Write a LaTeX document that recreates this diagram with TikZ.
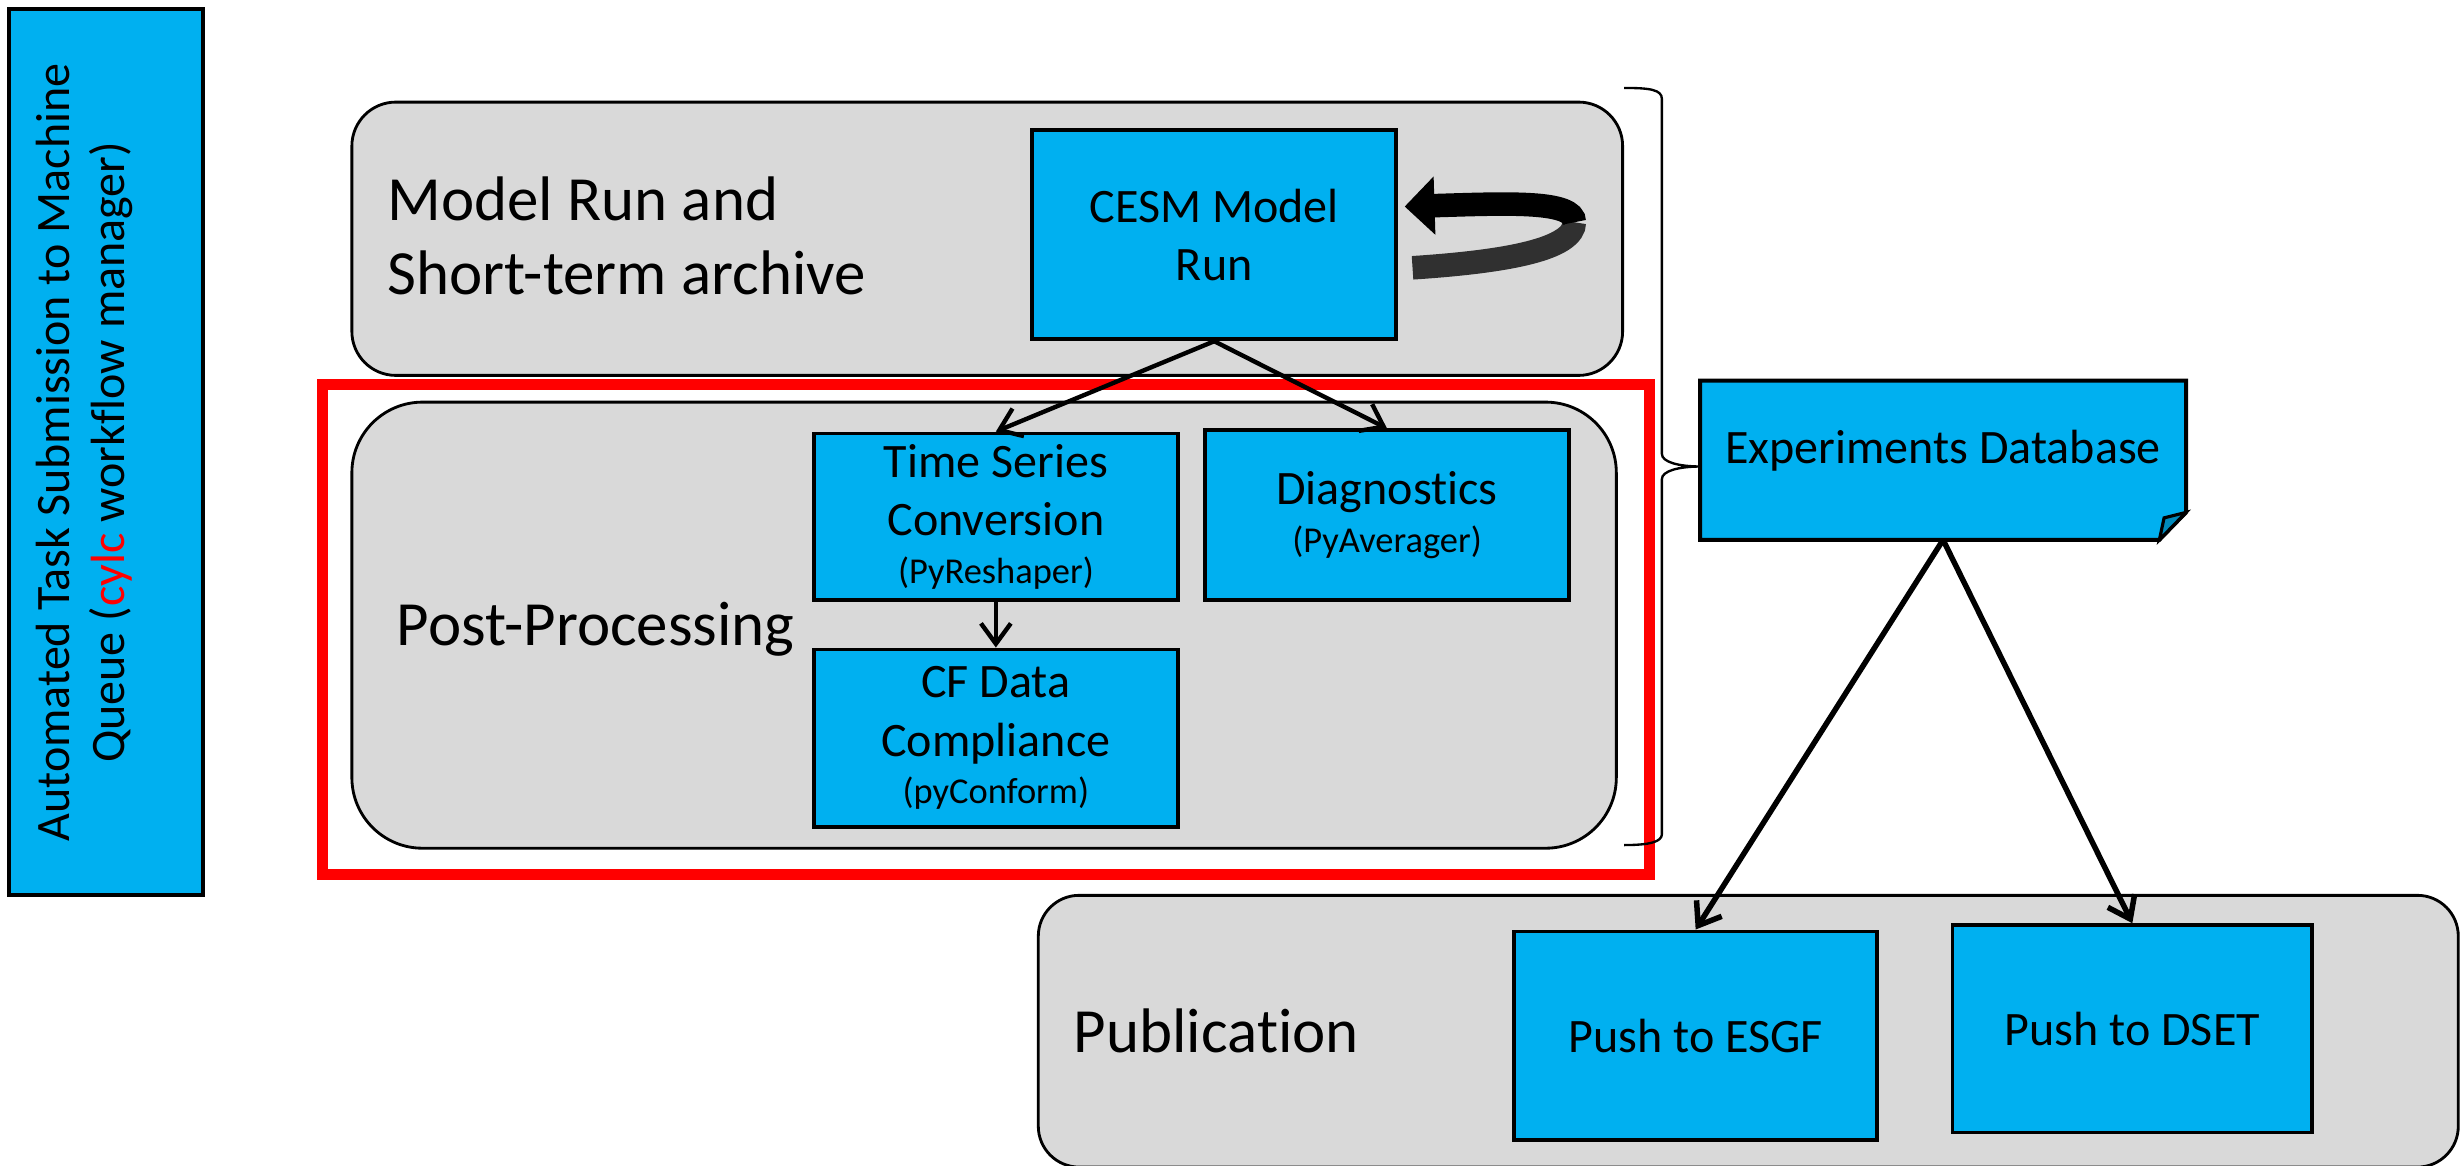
\documentclass[tikz,border=0pt]{standalone}
\usepackage{fontspec}
\setmainfont{Carlito}[Ligatures=NoCommon]
\usetikzlibrary{arrows.meta,calc,positioning}
\definecolor{boxblue}{RGB}{0,176,240}
\definecolor{groupgray}{RGB}{217,217,217}
\definecolor{foldblue}{RGB}{0,138,188}
\definecolor{loopgray}{RGB}{48,48,48}
\tikzset{
mybox/.style={
  rectangle,
  line width=0.25mm,
  inner sep=0pt,
  align=center,
  draw=black,
  fill=boxblue,
  minimum width=23.2mm,
  font=\fontsize{8.7}{10.6}\selectfont,
  }
}
\tikzset{
mygroup/.style={
  rectangle,
  rounded corners=4.5mm,
  line width=0.18mm,
  draw=black,
  fill=groupgray,
  }
}
\tikzset{
mylabel/.style={
  inner sep=0pt,
  align=left,
  font=\fontsize{11.4}{13.4}\selectfont,
  }
}
\tikzset{
myline/.style={
  line width=0.28mm,
  -{Straight Barb[length=1.3mm,width=1.9mm]}
  }
}
\newcommand{\tooltext}[1]{{\fontsize{6.6}{8}\selectfont #1}}

\begin{document}
\begin{tikzpicture}[x=0.1mm, y=-0.1mm]
    \useasboundingbox (0,0) rectangle (1568,742);

    % workflow manager
    \node[mybox, rotate=90, minimum width=56.4mm, minimum height=12.3mm] (queue) at (67.5,288) {};
    \node[rotate=90, align=center, inner sep=0pt, font=\fontsize{8.7}{10}\selectfont] (queuetxt) at (54,288) {Automated Task Submission to Machine\\Queue ({\color{red}cylc} workflow manager)};

    % model run part
    \node[mygroup, rounded corners=2.8mm, minimum width=80.9mm, minimum height=17.4mm] (modelgrp) at (628.5,152) {};
    \node[mylabel, anchor=west] (modellbl) at (246,150) {Model Run and\\Short-term archive};
    \node[mybox, minimum height=13.3mm] (cesm) at (773,149.5) {CESM Model\\Run};

    % post-processing part
    \node[draw=red, line width=0.7mm, minimum width=84.5mm, minimum height=31.15mm] (ppframe) at (627.5,400.75) {};
    \node[mygroup, minimum width=80.5mm, minimum height=28.4mm] (postgrp) at (626.5,398) {};
    \node[mylabel, anchor=base west] (postlbl) at (252,411) {Post-Processing};
    \node[mybox, minimum height=10.6mm] (tsconv) at (634,329) {Time Series\\Conversion\\[-2pt]\tooltext{(PyReshaper)}};
    \node[mybox, minimum height=10.8mm] (diag) at (883,328) {Diagnostics\\[-2pt]\tooltext{(PyAverager)}};
    \node[mybox, below=2.9mm of tsconv, minimum height=11.3mm] (cfdata) {CF Data\\Compliance\\[-2pt]\tooltext{(pyConform)}};

    % publication part
    \node[mygroup, rounded corners=2.6mm, minimum width=90.4mm, minimum height=17.3mm] (pubgrp) at (1113,656.5) {};
    \node[mylabel, anchor=base west] (publbl) at (683,670) {Publication};
    \node[mybox, minimum width=23.1mm, minimum height=13.3mm] (esgf) at (1079.5,659.5) {Push to ESGF};
    \node[mybox, minimum width=22.9mm, minimum height=13.2mm] (dset) at (1357.5,655) {Push to DSET};

    % experiments database
    \node[minimum width=30.8mm, minimum height=10mm] (expdb) at (1237,293) {};
    \draw[line width=0.25mm, fill=boxblue] (expdb.north west) -- (expdb.north east) -- ([yshift=1.75mm]expdb.south east) -- ([xshift=-1.7mm]expdb.south east) -- (expdb.south west) -- cycle;
    \draw[line width=0.2mm, fill=foldblue] ([yshift=1.75mm]expdb.south east) -- ([xshift=-1.4mm,yshift=1.4mm]expdb.south east) -- ([xshift=-1.7mm]expdb.south east) -- cycle;
    \node[font=\fontsize{8.7}{10}\selectfont, inner sep=0pt] (expdbtxt) at ([yshift=0.6mm]expdb.center) {Experiments Database};

    % brace
    \draw[line width=0.15mm] (1034,56) .. controls (1050,56) and (1058,57) .. (1058,63) -- (1058,289)
        .. controls (1058,294) and (1068,297) .. (1083,297) .. controls (1068,297) and (1058,300) .. (1058,305)
        -- (1058,531) .. controls (1058,536) and (1050,538) .. (1034,538);

    % loop arrow
    \draw[line width=1.5mm, color=loopgray] ($(cesm.east)+(9,21)$) .. controls ($(cesm.east)+(70,17)$) and ($(cesm.east)+(112,9)$) .. ($(cesm.east)+(112,-8)$);
    \draw[line width=1.5mm, -{Triangle[length=1.9mm,width=3.6mm]}] ($(cesm.east)+(112,-8)$) .. controls ($(cesm.east)+(112,-22)$) and ($(cesm.east)+(70,-20)$) .. ($(cesm.east)+(4,-18)$);

    % flow edges
    \draw[myline] (cesm.south) -- (tsconv.north);
    \draw[myline] (cesm.south) -- (diag.north);
    \draw[myline] (tsconv.south) -- (cfdata.north);
    \draw[myline, line width=0.35mm] (expdb.south) -- (esgf.north);
    \draw[myline, line width=0.35mm] (expdb.south) -- (dset.north);
\end{tikzpicture}
\end{document}
